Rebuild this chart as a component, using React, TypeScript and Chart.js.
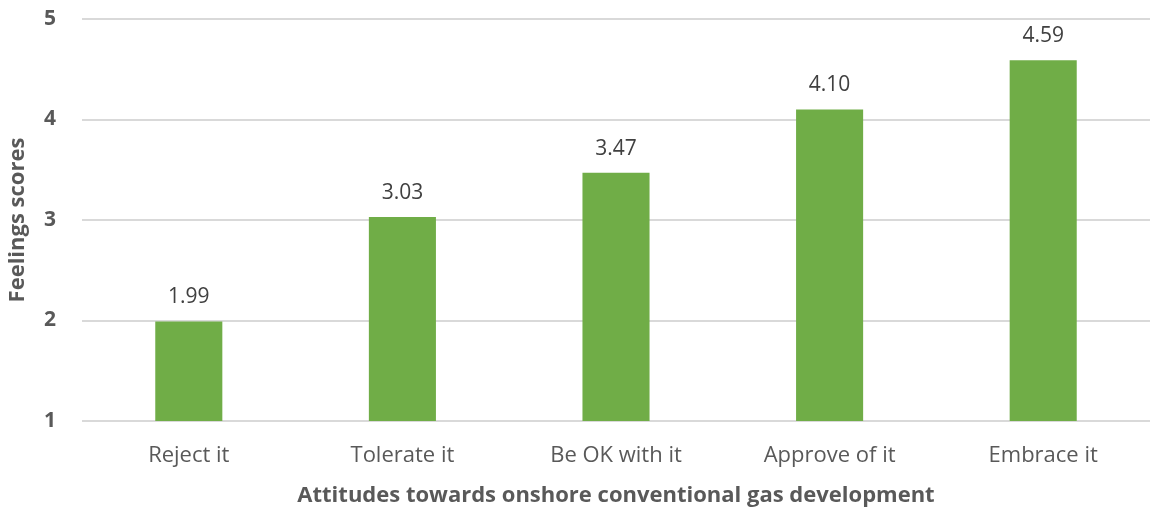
import React, { useEffect, useRef } from "react";
import { Chart, registerables } from "chart.js";

Chart.register(...registerables);

const categories = ["Reject it", "Tolerate it", "Be OK with it", "Approve of it", "Embrace it"];
const scores = [1.99, 3.03, 3.47, 4.1, 4.59];
const yTicks = [1, 2, 3, 4, 5];

const FONT = "'Open Sans', 'Noto Sans', sans-serif";

const valueLabels = {
  id: "valueLabels",
  afterDatasetsDraw(chart: any) {
    const ctx = chart.ctx;
    const meta = chart.getDatasetMeta(0);
    ctx.save();
    ctx.font = `21px ${FONT}`;
    ctx.fillStyle = "#404040";
    ctx.textAlign = "center";
    ctx.textBaseline = "middle";
    meta.data.forEach((bar: any, i: number) => {
      ctx.fillText(scores[i].toFixed(2), bar.x, bar.y - 24);
    });
    ctx.restore();
  },
};

export default function App() {
  const ref = useRef<HTMLCanvasElement>(null);

  useEffect(() => {
    if (!ref.current) return;
    const chart = new Chart(ref.current, {
      type: "bar",
      data: {
        labels: categories,
        datasets: [
          {
            data: scores,
            backgroundColor: "#70AD47",
            barPercentage: 0.314,
            categoryPercentage: 1,
          },
        ],
      },
      options: {
        animation: false,
        responsive: false,
        layout: { padding: { top: 19, right: 2, left: 0, bottom: 0 } },
        plugins: { legend: { display: false }, tooltip: { enabled: false } },
        scales: {
          x: {
            grid: { display: false },
            border: { display: false },
            ticks: {
              color: "#595959",
              font: { family: FONT, size: 22 },
              padding: 14,
            },
            title: {
              display: true,
              text: "Attitudes towards onshore conventional gas development",
              color: "#595959",
              font: { family: FONT, size: 22, weight: "bold" },
              padding: { top: 4, bottom: 0 },
            },
            afterFit(scale: any) {
              scale.height = 88;
              scale.paddingLeft = 0;
              scale.paddingRight = 0;
            },
          },
          y: {
            min: 1,
            max: 5,
            afterBuildTicks(scale: any) {
              scale.ticks = yTicks.map((v) => ({ value: v }));
            },
            grid: { color: "#D9D9D9", lineWidth: 2, drawTicks: false },
            border: { display: false },
            ticks: {
              color: "#595959",
              font: { family: FONT, size: 21, weight: "bold" },
              padding: 26,
            },
            title: {
              display: true,
              text: "Feelings scores",
              color: "#595959",
              font: { family: FONT, size: 22, weight: "bold" },
              padding: { top: 5, bottom: 0 },
            },
            afterFit(scale: any) {
              scale.width = 82;
              scale.paddingTop = 0;
              scale.paddingBottom = 0;
            },
          },
        },
      },
      plugins: [valueLabels],
    });
    return () => chart.destroy();
  }, []);

  return (
    <div style={{ position: "absolute", left: 0, top: 0, width: 1152, height: 509, background: "#fff" }}>
      <canvas ref={ref} width={1152} height={509} />
    </div>
  );
}
